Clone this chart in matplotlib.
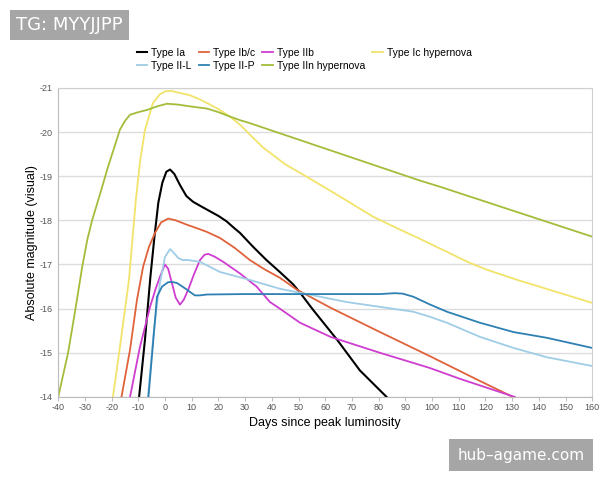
import matplotlib
matplotlib.use('Agg')
import matplotlib.pyplot as plt

plt.rcParams['font.family'] = ['Liberation Sans', 'DejaVu Sans']
plt.rcParams['axes.unicode_minus'] = False

# light curves: days since peak, absolute magnitude
ia_days = [-9.7, -7.5, -5.5, -4, -2.5, -1, 0.5, 1.9, 3.5, 5.6, 8, 10.5, 14, 17, 20, 23, 26, 28,
           33, 38, 43, 48, 50.6, 55.5, 64.4, 73, 83]
ia_mag = [-14, -15.3, -16.7, -17.6, -18.4, -18.85, -19.1, -19.15, -19.05, -18.8, -18.55, -18.42,
          -18.3, -18.2, -18.1, -17.98, -17.82, -17.72, -17.4, -17.1, -16.83, -16.55, -16.36,
          -15.97, -15.3, -14.6, -14]

ibc_days = [-16.3, -13.1, -10.5, -8.2, -6, -3.7, -1.5, 1.2, 4, 8.2, 12, 15.6, 20.6, 26, 31.8,
            37, 43, 49.4, 62, 80.5, 99, 117, 130.3]
ibc_mag = [-14, -15.07, -16.2, -16.95, -17.4, -17.72, -17.95, -18.04, -18.0, -17.9, -17.82,
           -17.74, -17.6, -17.38, -17.1, -16.9, -16.7, -16.43, -16.02, -15.47, -14.93, -14.39, -14]

iib_days = [-13.1, -9.4, -5.6, -3.5, -1.9, 0, 1.2, 2.5, 4, 5.6, 7, 8.7, 11, 13.1, 14.8, 16.2,
            18.5, 21.8, 28, 34.3, 39.3, 43, 50.6, 62, 80.5, 99, 110.5, 131]
iib_mag = [-14, -15.13, -16.04, -16.45, -16.72, -17.0, -16.9, -16.6, -16.25, -16.09, -16.2,
           -16.43, -16.8, -17.1, -17.22, -17.24, -17.18, -17.06, -16.8, -16.5, -16.15, -16.0,
           -15.68, -15.36, -15.0, -14.66, -14.41, -14]

ich_days = [-19.5, -16.5, -13.5, -10.9, -9.4, -7.5, -4.5, -2, 0, 2.5, 4.5, 9.4, 13, 16.9, 20.5,
            24.3, 28, 31.8, 36.7, 40, 45, 53, 65.5, 78, 88, 95.5, 114, 120.6, 132, 160]
ich_mag = [-14, -15.3, -16.65, -18.47, -19.31, -20.05, -20.66, -20.85, -20.92, -20.93, -20.9,
           -20.83, -20.74, -20.62, -20.5, -20.35, -20.17, -19.94, -19.65, -19.5, -19.27, -18.99,
           -18.54, -18.08, -17.79, -17.58, -17.04, -16.88, -16.65, -16.13]

iil_days = [-6.4, -4.4, -3, -1.9, 0, 1.9, 3.5, 4.9, 6.5, 8.7, 13.1, 20.6, 31.8, 43, 50.6, 68,
            80.5, 93, 99, 105.6, 118, 130.5, 143, 160]
iil_mag = [-14, -15.36, -16.1, -16.58, -17.17, -17.35, -17.25, -17.15, -17.1, -17.1, -17.06,
           -16.83, -16.65, -16.45, -16.36, -16.15, -16.04, -15.93, -15.82, -15.68, -15.36,
           -15.11, -14.9, -14.7]

iip_days = [-6.2, -4.5, -3, -1.1, 1.2, 3, 4.5, 6.5, 8.2, 10, 11.2, 13, 15.7, 30, 50, 70, 80.5,
            86, 89, 93, 99, 105.6, 118, 130.5, 143, 160]
iip_mag = [-14, -15.2, -16.27, -16.5, -16.6, -16.6, -16.58, -16.5, -16.43, -16.35, -16.3, -16.3,
           -16.32, -16.33, -16.33, -16.33, -16.33, -16.35, -16.34, -16.27, -16.1, -15.93, -15.68,
           -15.47, -15.34, -15.11]

iinh_days = [-40, -36.3, -33.6, -31, -29.1, -27.3, -24.3, -21.3, -19, -16.9, -15, -13.1, -10,
             -6.7, -3, 0.7, 5, 9.4, 15.7, 20, 24.3, 28, 31.8, 95.5, 103, 160]
iinh_mag = [-14, -15.0, -15.97, -16.95, -17.56, -18.0, -18.6, -19.22, -19.65, -20.05, -20.25,
            -20.39, -20.45, -20.5, -20.58, -20.64, -20.62, -20.58, -20.53, -20.45, -20.35,
            -20.27, -20.2, -18.9, -18.76, -17.63]

x_ticks = list(range(-40, 161, 10))
y_ticks = list(range(-21, -13))

fig = plt.figure(figsize=(6, 4.8), dpi=100)
ax = fig.add_axes([0.097, 0.173, 0.89, 0.644])

lw = 1.3
l_ia, = ax.plot(ia_days, ia_mag, color='#000000', lw=1.5, label='Type Ia')
l_ibc, = ax.plot(ibc_days, ibc_mag, color='#e0623a', lw=lw, label='Type Ib/c')
l_iib, = ax.plot(iib_days, iib_mag, color='#cf3dd0', lw=lw, label='Type IIb')
l_ich, = ax.plot(ich_days, ich_mag, color='#f2e36a', lw=lw, label='Type Ic hypernova')
l_iil, = ax.plot(iil_days, iil_mag, color='#9fcde6', lw=lw, label='Type II-L')
l_iip, = ax.plot(iip_days, iip_mag, color='#2e80b3', lw=lw, label='Type II-P')
l_iinh, = ax.plot(iinh_days, iinh_mag, color='#a3bd3a', lw=lw, label='Type IIn hypernova')

ax.set_xlim(-40, 160)
ax.set_ylim(-14, -21)
ax.set_xticks(x_ticks)
ax.set_yticks(y_ticks)
ax.tick_params(axis='x', labelsize=6.5, colors='#555555', length=3, width=0.8, pad=1)
ax.tick_params(axis='y', labelsize=6.5, colors='#555555', length=0, pad=4)
ax.tick_params(axis='x', color='#c0c0c0')
ax.grid(axis='y', color='#dcdcdc', lw=1)
ax.set_axisbelow(True)
for s in ax.spines.values():
    s.set_color('#d0d0d0')
ax.spines['left'].set_color('#bbbbbb')
ax.spines['bottom'].set_color('#bbbbbb')

ax.set_xlabel('Days since peak luminosity', fontsize=9, labelpad=4)
ax.set_ylabel('Absolute magnitude (visual)', fontsize=9, labelpad=1)

handles = [l_ia, l_iil, l_ibc, l_iip, l_iib, l_iinh, l_ich]
fig.legend(handles=handles, labels=[h.get_label() for h in handles], loc='upper left',
           bbox_to_anchor=(0.228, 0.90), ncol=4, frameon=False, fontsize=7.5,
           handlelength=1.0, handletextpad=0.4, columnspacing=0.67, labelspacing=0.3,
           borderpad=0, borderaxespad=0)

# watermarks
fig.text(0.027, 0.948, 'TG: MYYJJPP', color='white', fontsize=13, ha='left', va='center',
         family='DejaVu Sans',
         bbox=dict(boxstyle='square,pad=0.33', facecolor='#a6a6a6', edgecolor='none'))
fig.text(0.762, 0.052, 'hub\u2013agame.com', color='white', fontsize=11, ha='left', va='center',
         family='DejaVu Sans',
         bbox=dict(boxstyle='square,pad=0.55', facecolor='#a6a6a6', edgecolor='none'))

fig.savefig('out.png', dpi=100)
